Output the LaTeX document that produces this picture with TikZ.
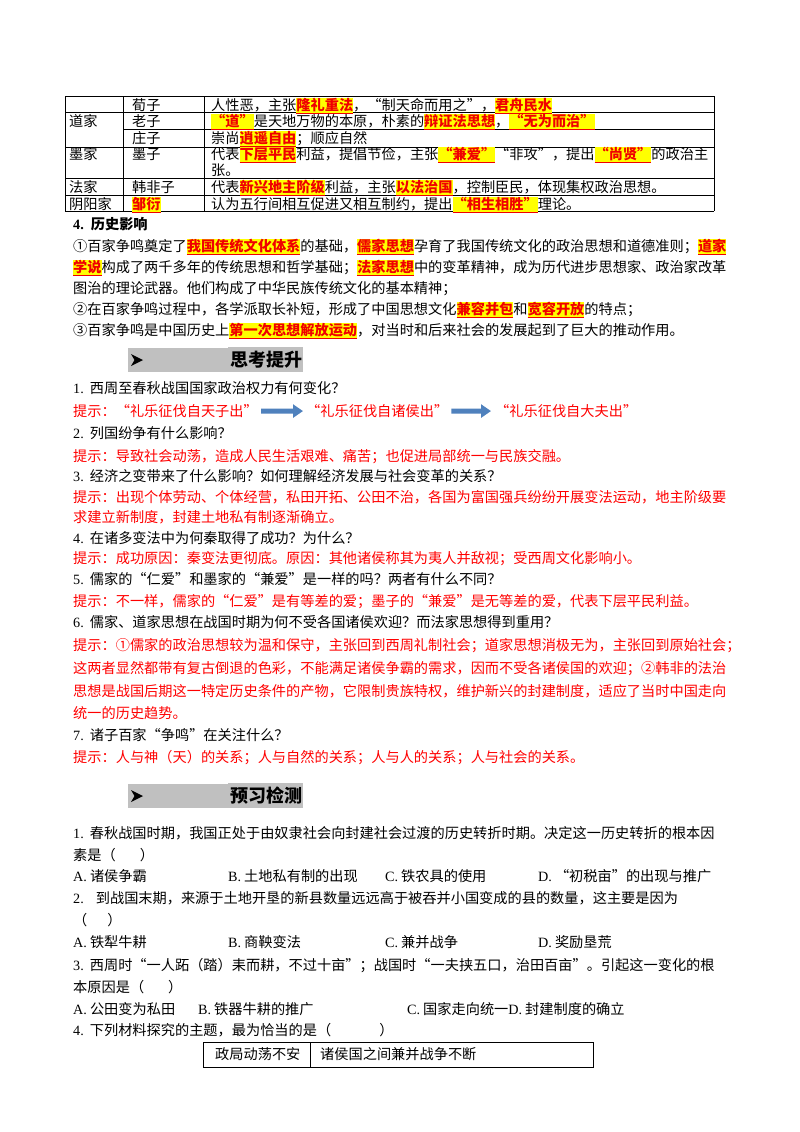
\documentclass[tikz,border=0pt]{standalone}
\usepackage{fontspec}
\setmainfont{Liberation Serif}
\newfontfamily\cjk{Noto Sans CJK SC}
\usepackage{newunicodechar}
\newunicodechar{“}{\makebox[1em][r]{\char"201C}}
\newunicodechar{”}{\makebox[1em][l]{\char"201D}}
\usetikzlibrary{arrows.meta}
\definecolor{hintred}{HTML}{FF0000}
\definecolor{hlred}{HTML}{F00000}
\definecolor{hlyellow}{HTML}{FFFF00}
\definecolor{bargray}{HTML}{C0C0C0}
\definecolor{arrowblue}{HTML}{4F81BD}
\XeTeXinterchartokenstate=1
\newcommand\cjkglue{\hskip0pt plus 3pt minus 0.6pt\relax}
\XeTeXinterchartoks 1 1={\cjkglue}
\XeTeXinterchartoks 1 2={\cjkglue}
\XeTeXinterchartoks 1 3={\cjkglue}
\XeTeXinterchartoks 3 1={\cjkglue}
\XeTeXinterchartoks 3 2={\cjkglue}
\newcommand\hl[1]{{\setlength{\fboxsep}{0pt}\colorbox{hlyellow}{\rule[-3.5pt]{0pt}{16pt}\textcolor{hlred}{\bfseries\underline{#1}}}}}
\newcommand\qn[1]{{\rmfamily #1}\hspace{6pt}}
\newcommand\op[1]{{\rmfamily #1}\hspace{3pt}}
\newcommand\jl[1]{\hbox to 654pt{#1}}
\tikzset{
  ln/.style={anchor=base west, inner sep=0pt, font=\cjk\fontsize{14.2}{17}\selectfont},
  hint/.style={ln, text=hintred},
  head/.style={anchor=base west, inner sep=0pt, font=\cjk\bfseries\fontsize{18}{20}\selectfont},
  tab/.style={line width=0.8pt, black},
  bigarrow/.style={line width=5pt, arrowblue, -{Triangle[length=10pt,width=13pt]}}
}
\begin{document}
\begin{tikzpicture}[x=1pt,y=-1pt]
\useasboundingbox (0,0) rectangle (800,1132);
\fill[white] (0,0) rectangle (800,1132);
% ---------- table ----------
\draw[tab] (65,96) -- (714,96);
\draw[tab] (65,112) -- (714,112);
\draw[tab] (123,129) -- (714,129);
\draw[tab] (65,147) -- (714,147);
\draw[tab] (65,178) -- (714,178);
\draw[tab] (65,195) -- (714,195);
\draw[tab] (65,211) -- (714,211);
\draw[tab] (65,96) -- (65,211);
\draw[tab] (123,96) -- (123,211);
\draw[tab] (204,96) -- (204,211);
\draw[tab] (714,96) -- (714,211);
\node[ln] (r1b) at (132,110) {荀子};
\node[ln] (r1c) at (211,110) {人性恶，主张\hl{隆礼重法}，“制天命而用之”，\hl{君舟民水}};
\node[ln] (r2a) at (69,126.5) {道家};
\node[ln] (r2b) at (132,126.5) {老子};
\node[ln] (r2c) at (211,126.5) {\hl{“道”}是天地万物的本原，朴素的\hl{辩证法思想}，\hl{“无为而治”}};
\node[ln] (r3b) at (132,143) {庄子};
\node[ln] (r3c) at (211,143) {崇尚\hl{逍遥自由}；顺应自然};
\node[ln] (r4a) at (69,159.5) {墨家};
\node[ln] (r4b) at (132,159.5) {墨子};
\node[ln] (r4c) at (211,159.5) {代表\hl{下层平民}利益，提倡节俭，主张\hl{“兼爱”}“非攻”，提出\hl{“尚贤”}的政治主};
\node[ln] (r4d) at (211,175.5) {张。};
\node[ln] (r5a) at (69,192.5) {法家};
\node[ln] (r5b) at (132,192.5) {韩非子};
\node[ln] (r5c) at (211,192.5) {代表\hl{新兴地主阶级}利益，主张\hl{以法治国}，控制臣民，体现集权政治思想。};
\node[ln] (r6a) at (69,209) {阴阳家};
\node[ln] (r6b) at (132,209) {\hl{邹衍}};
\node[ln] (r6c) at (211,209) {认为五行间相互促进又相互制约，提出\hl{“相生相胜”}理论。};
% ---------- section 4 ----------
\node[ln, font=\cjk\bfseries\fontsize{14.2}{17}\selectfont] (s4) at (73,229.5) {{\rmfamily\bfseries 4.}\hspace{7pt}历史影响};
\node[ln] (p1) at (73,251) {\jl{①百家争鸣奠定了\hl{我国传统文化体系}的基础，\hl{儒家思想}孕育了我国传统文化的政治思想和道德准则；\hl{道家}}};
\node[ln] (p2) at (73,272) {\jl{\hl{学说}构成了两千多年的传统思想和哲学基础；\hl{法家思想}中的变革精神，成为历代进步思想家、政治家改革}};
\node[ln] (p3) at (73,293.5) {图治的理论武器。他们构成了中华民族传统文化的基本精神；};
\node[ln] (p4) at (73,314.5) {②在百家争鸣过程中，各学派取长补短，形成了中国思想文化\hl{兼容并包}和\hl{宽容开放}的特点；};
\node[ln] (p5) at (73,335.5) {③百家争鸣是中国历史上\hl{第一次思想解放运动}，对当时和后来社会的发展起到了巨大的推动作用。};
% ---------- heading 1 ----------
\fill[bargray] (128,348) rectangle (229,372);
\fill[bargray] (228,347) rectangle (303,372);
\fill[black] (131,354) -- (143,360) -- (131,366) -- (134.5,360) -- cycle;
\node[head] (h1) at (230,366.8) {思考提升};
% ---------- questions ----------
\node[ln] (q1) at (73,393.5) {\qn{1.}西周至春秋战国国家政治权力有何变化？};
\node[hint] (s1) at (73,416.5) {提示：“礼乐征伐自天子出”};
\node[hint] (s2) at (306,416.5) {“礼乐征伐自诸侯出”};
\node[hint] (s3) at (495,416.5) {“礼乐征伐自大夫出”};
\draw[bigarrow] ([xshift=3pt]s1.east) -- ([xshift=-3pt]s2.west);
\draw[bigarrow] ([xshift=3pt]s2.east) -- ([xshift=-4pt]s3.west);
\node[ln] (q2) at (73,438.5) {\qn{2.}列国纷争有什么影响？};
\node[hint] (a2) at (73,461.5) {提示：导致社会动荡，造成人民生活艰难、痛苦；也促进局部统一与民族交融。};
\node[ln] (q3) at (73,481.5) {\qn{3.}经济之变带来了什么影响？如何理解经济发展与社会变革的关系？};
\node[hint] (a3a) at (73,502.5) {\jl{提示：出现个体劳动、个体经营，私田开拓、公田不治，各国为富国强兵纷纷开展变法运动，地主阶级要}};
\node[hint] (a3b) at (73,522.5) {求建立新制度，封建土地私有制逐渐确立。};
\node[ln] (q4) at (73,543.5) {\qn{4.}在诸多变法中为何秦取得了成功？为什么？};
\node[hint] (a4) at (73,563.5) {提示：成功原因：秦变法更彻底。原因：其他诸侯称其为夷人并敌视；受西周文化影响小。};
\node[ln] (q5) at (73,584.5) {\qn{5.}儒家的“仁爱”和墨家的“兼爱”是一样的吗？两者有什么不同？};
\node[hint] (a5) at (73,606.5) {提示：不一样，儒家的“仁爱”是有等差的爱；墨子的“兼爱”是无等差的爱，代表下层平民利益。};
\node[ln] (q6) at (73,627.5) {\qn{6.}儒家、道家思想在战国时期为何不受各国诸侯欢迎？而法家思想得到重用？};
\node[hint] (a6a) at (73,650.5) {\jl{提示：①儒家的政治思想较为温和保守，主张回到西周礼制社会；道家思想消极无为，主张回到原始社会；}};
\node[hint] (a6b) at (73,673.5) {\jl{这两者显然都带有复古倒退的色彩，不能满足诸侯争霸的需求，因而不受各诸侯国的欢迎；②韩非的法治}};
\node[hint] (a6c) at (73,696.5) {\jl{思想是战国后期这一特定历史条件的产物，它限制贵族特权，维护新兴的封建制度，适应了当时中国走向}};
\node[hint] (a6d) at (73,718.5) {统一的历史趋势。};
\node[ln] (q7) at (73,740.5) {\qn{7.}诸子百家“争鸣”在关注什么？};
\node[hint] (a7) at (73,762.5) {提示：人与神（天）的关系；人与自然的关系；人与人的关系；人与社会的关系。};
% ---------- heading 2 ----------
\fill[bargray] (128,784) rectangle (229,808);
\fill[bargray] (228,783) rectangle (303,808);
\fill[black] (131,790) -- (143,796) -- (131,802) -- (134.5,796) -- cycle;
\node[head] (h2) at (230,802.8) {预习检测};
% ---------- exercises ----------
\node[ln] (e1a) at (73,838.5) {\jl{\qn{1.}春秋战国时期，我国正处于由奴隶社会向封建社会过渡的历史转折时期。决定这一历史转折的根本因}};
\node[ln] (e1b) at (73,860.5) {素是（\hspace{24pt}）};
\node[ln] (e1A) at (73,881.5) {\op{A.}诸侯争霸};
\node[ln] (e1B) at (228,881.5) {\op{B.}土地私有制的出现};
\node[ln] (e1C) at (385,881.5) {\op{C.}铁农具的使用};
\node[ln] (e1D) at (538,881.5) {\op{D.}“初税亩”的出现与推广};
\node[ln] (e2a) at (73,903.5) {\qn{2.}\hspace{6pt}到战国末期，来源于土地开垦的新县数量远远高于被吞并小国变成的县的数量，这主要是因为};
\node[ln] (e2b) at (73,925.5) {（\hspace{20pt}）};
\node[ln] (e2A) at (73,947.5) {\op{A.}铁犁牛耕};
\node[ln] (e2B) at (228,947.5) {\op{B.}商鞅变法};
\node[ln] (e2C) at (385,947.5) {\op{C.}兼并战争};
\node[ln] (e2D) at (538,947.5) {\op{D.}奖励垦荒};
\node[ln] (e3a) at (73,970.5) {\jl{\qn{3.}西周时“一人跖（踏）耒而耕，不过十亩”；战国时“一夫挟五口，治田百亩”。引起这一变化的根}};
\node[ln] (e3b) at (73,992.5) {本原因是（\hspace{24pt}）};
\node[ln] (e3A) at (73,1014.5) {\op{A.}公田变为私田};
\node[ln] (e3B) at (198,1014.5) {\op{B.}铁器牛耕的推广};
\node[ln] (e3C) at (407,1014.5) {\op{C.}国家走向统一\op{D.}封建制度的确立};
\node[ln] (e4) at (73,1035.5) {\qn{4.}下列材料探究的主题，最为恰当的是（\hspace{48pt}）};
\draw[tab] (203,1042) rectangle (593,1067);
\draw[tab] (310,1042) -- (310,1067);
\node[ln] (b1) at (215,1059.5) {政局动荡不安};
\node[ln] (b2) at (320,1059.5) {诸侯国之间兼并战争不断};
\end{tikzpicture}
\end{document}
